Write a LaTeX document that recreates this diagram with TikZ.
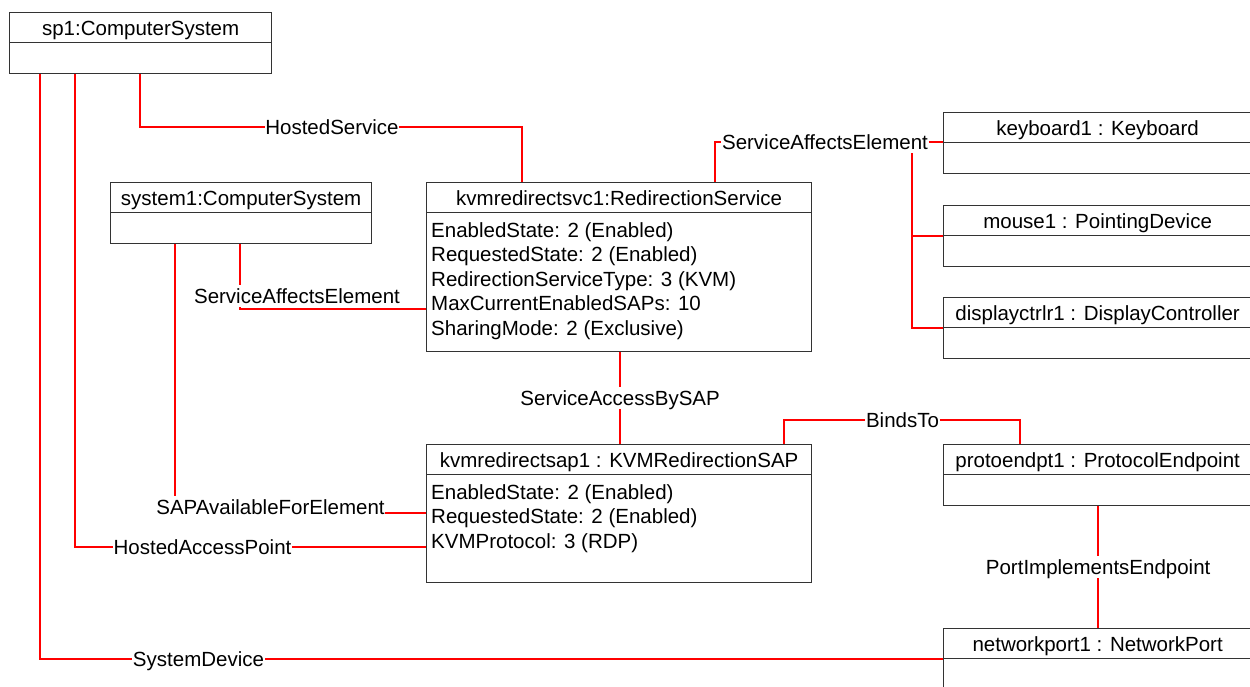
\documentclass[tikz,border=0pt]{standalone}
\usepackage{fontspec}
\setmainfont{Liberation Sans}
\usetikzlibrary{calc,backgrounds}

\definecolor{assocred}{RGB}{255,0,0}
\tikzset{
  objframe/.style={draw=black!80, line width=1.3pt},
  assoc/.style={draw=assocred, line width=1.4pt},
  assoclabel/.style={fill=white, inner sep=0.5pt, text height=17.5pt, text depth=3pt},
}

% object box: name, x, y, width, height, title
\newcommand\objbox[6]{%
  \node[objframe, minimum width=#4pt, minimum height=#5pt, anchor=north west, inner sep=0pt] (#1) at (#2,#3) {};
  \draw[objframe] ($(#1.north west)+(0,30.5)$) -- ($(#1.north east)+(0,30.5)$);
  \node[anchor=base, inner sep=0pt] at ($(#1.north)+(0,23)$) {#6};
}
% attribute lines inside an object box
\newcommand\objattrs[2]{%
  \foreach \t [count=\i] in {#2} {
    \node[anchor=base west, inner sep=0pt] at ($(#1.north west)+(5,{55+24.5*(\i-1)})$) {\t};
  }
}

\begin{document}
\begin{tikzpicture}[x=1pt, y=-1pt, font=\fontsize{20.5}{24.5}\selectfont]
\useasboundingbox (0,0) rectangle (1250,686);

% objects
\objbox{sp1}{9}{12}{262}{61}{sp1:ComputerSystem}
\objbox{sys1}{110}{182}{261}{61}{system1:ComputerSystem}
\objbox{svc}{426}{182}{385}{169}{kvmredirectsvc1:RedirectionService}
\objattrs{svc}{EnabledState: 2 (Enabled), RequestedState: 2 (Enabled), RedirectionServiceType: 3 (KVM), MaxCurrentEnabledSAPs: 10, SharingMode: 2 (Exclusive)}
\objbox{sap}{426}{444}{385}{138}{kvmredirectsap1 : KVMRedirectionSAP}
\objattrs{sap}{EnabledState: 2 (Enabled), RequestedState: 2 (Enabled), KVMProtocol: 3 (RDP)}
\objbox{kbd}{943}{112}{308}{61}{keyboard1 : Keyboard}
\objbox{mouse}{943}{205}{308}{61}{mouse1 : PointingDevice}
\objbox{dc}{943}{297}{308}{61}{displayctrlr1 : DisplayController}
\objbox{pe}{943}{444}{308}{61}{protoendpt1 : ProtocolEndpoint}
\objbox{np}{943}{628}{308}{61}{networkport1 : NetworkPort}

% association labels
\node[assoclabel] (hs) at (332,127) {HostedService};
\node[assoclabel] (saeR) at (825,142) {ServiceAffectsElement};
\node[assoclabel] (saeL) at (297,296) {ServiceAffectsElement};
\node[assoclabel] (sabs) at ($(svc.south)!0.5!(sap.north)+(1,0)$) {ServiceAccessBySAP};
\node[assoclabel] (binds) at (902.5,420) {BindsTo};
\node[assoclabel] (pie) at ($(pe.south)!0.5!(np.north)+(0.5,0)$) {PortImplementsEndpoint};
\node[assoclabel] (sapav) at (270.5,507) {SAPAvailableForElement};
\node[assoclabel] (hap) at (202.5,547) {HostedAccessPoint};
\node[assoclabel] (sd) at (198.5,659) {SystemDevice};

% associations
\begin{scope}[on background layer]
  \draw[assoc] ($(sp1.south west)+(131,0)$) |- (hs.west);
  \draw[assoc] (hs.east) -| ($(svc.north west)+(96,0)$);

  \draw[assoc] ($(svc.north west)+(289,0)$) |- (saeR.west);
  \draw[assoc] (saeR.east) -- (saeR.east -| kbd.west);
  \draw[assoc] ($(saeR.south -| kbd.west)+(-31,0)$) |- (dc.west);
  \draw[assoc] ($(mouse.west)+(-31,0)$) -- (mouse.west);

  \draw[assoc] ($(sys1.south west)+(130,0)$) |- ($(svc.north west)+(0,127)$);
  \draw[assoc] ($(sys1.south west)+(65,0)$) |- ($(sap.north west)+(0,69)$);

  \draw[assoc] (sabs.north |- svc.south) -- (sabs.north);
  \draw[assoc] (sabs.south) -- (sabs.south |- sap.north);

  \draw[assoc] ($(sap.north west)+(358,0)$) |- (binds.west);
  \draw[assoc] (binds.east) -| ($(pe.north west)+(77,0)$);

  \draw[assoc] (pie.north |- pe.south) -- (pie.north);
  \draw[assoc] (pie.south) -- (pie.south |- np.north);

  \draw[assoc] ($(sp1.south west)+(66,0)$) |- (hap.west);
  \draw[assoc] (hap.east) -- (hap.east -| sap.west);

  \draw[assoc] ($(sp1.south west)+(31,0)$) |- (sd.west);
  \draw[assoc] (sd.east) -- (sd.east -| np.west);
\end{scope}
\end{tikzpicture}
\end{document}
